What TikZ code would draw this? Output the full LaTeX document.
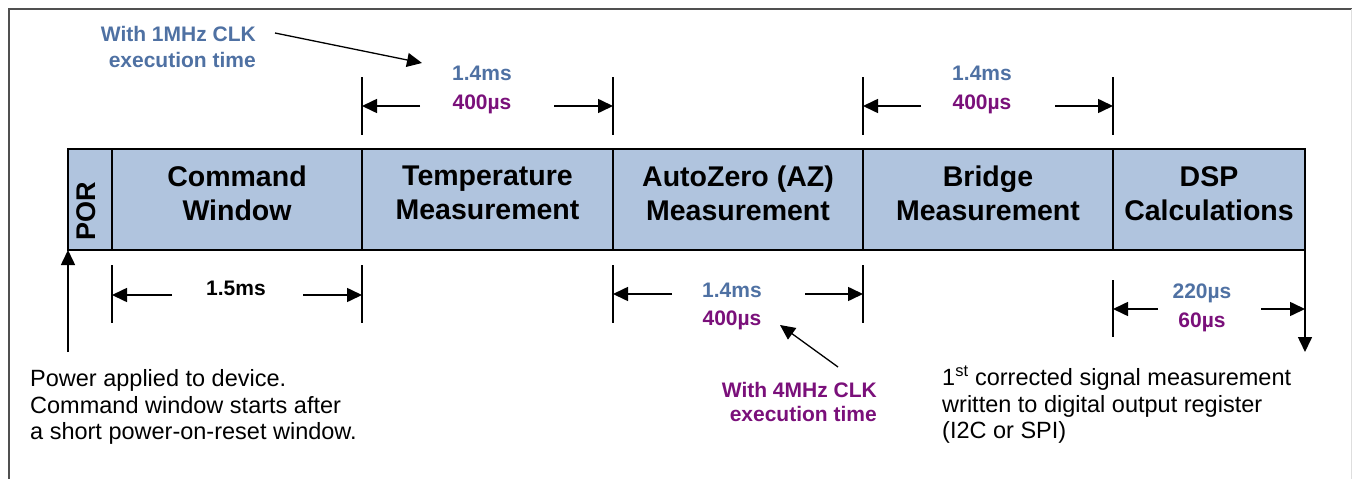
\documentclass[tikz,border=0pt]{standalone}
\usepackage{fontspec}
\setmainfont{Liberation Sans}
\usetikzlibrary{arrows.meta}
\definecolor{barfill}{RGB}{176,196,222}
\definecolor{clkblue}{RGB}{79,113,163}
\definecolor{clkpurple}{RGB}{122,16,122}
\definecolor{framedark}{RGB}{80,80,80}
\definecolor{framelight}{RGB}{222,222,222}
\begin{document}
\begin{tikzpicture}[x=1pt,y=-1pt,
  cell/.style={draw=black, line width=1.6pt, fill=barfill, minimum height=101pt,
    inner sep=0pt, outer sep=0pt, anchor=north west},
  celltext/.style={font=\fontsize{28.5}{34}\selectfont\bfseries, align=center,
    inner sep=0pt, anchor=north},
  tick/.style={line width=1.6pt},
  dimarrow/.style={line width=1.6pt, -{Triangle[length=15pt,width=14pt]}},
  callout/.style={line width=1.3pt, -{Triangle[length=15pt,width=14pt]}},
  dimlbl/.style={font=\fontsize{21}{26}\selectfont\bfseries, inner sep=0pt, anchor=base},
  clklbl/.style={font=\fontsize{21}{26}\selectfont\bfseries, inner sep=0pt,
    align=right, anchor=north east},
  body/.style={font=\fontsize{23.5}{26.5}\selectfont, inner sep=0pt, align=left,
    anchor=north west}]
\useasboundingbox (0,0) rectangle (1353,479);
% frame
\draw[framedark, line width=1.3pt] (9,479) -- (9,9) -- (1352,9);
\draw[framelight, line width=1pt] (1351.5,9) -- (1351.5,479);
% bar cells
\node[cell, minimum width=44pt]  (por)    at (68,149) {};
\node[cell, minimum width=250pt] (cmd)    at (112,149) {};
\node[cell, minimum width=251pt] (temp)   at (362,149) {};
\node[cell, minimum width=250pt] (az)     at (613,149) {};
\node[cell, minimum width=250pt] (bridge) at (863,149) {};
\node[cell, minimum width=192pt] (dsp)    at (1113,149) {};
\node[font=\fontsize{27}{30}\selectfont\bfseries, rotate=90, inner sep=0pt] (porlbl) at (86.5,211) {POR};
\node[celltext] (cmdlbl)    at (237,166) {Command\\Window};
\node[celltext] (templbl)   at (487.5,166) {Temperature\\Measurement};
\node[celltext] (azlbl)     at (738,166) {AutoZero (AZ)\\Measurement};
\node[celltext] (bridgelbl) at (988,166) {Bridge\\Measurement};
\node[celltext] (dsplbl)    at (1209,166) {DSP\\Calculations};
% top dimension 1 (temperature)
\coordinate (ta1) at (362,77);  \coordinate (tb1) at (362,135);
\coordinate (ta2) at (613,77);  \coordinate (tb2) at (613,135);
\draw[tick] (ta1) -- (tb1);
\draw[tick] (ta2) -- (tb2);
\coordinate (la1) at (420,106); \coordinate (le1) at (362,106);
\coordinate (ra1) at (554,106); \coordinate (re1) at (613,106);
\draw[dimarrow] (la1) -- (le1);
\draw[dimarrow] (ra1) -- (re1);
\node[dimlbl, text=clkblue]   (t1ms) at (482,80)  {1.4ms};
\node[dimlbl, text=clkpurple] (t1us) at (482,109) {400µs};
% top dimension 2 (bridge)
\coordinate (ta3) at (863,77);  \coordinate (tb3) at (863,135);
\coordinate (ta4) at (1113,77); \coordinate (tb4) at (1113,135);
\draw[tick] (ta3) -- (tb3);
\draw[tick] (ta4) -- (tb4);
\coordinate (la2) at (921,106);  \coordinate (le2) at (863,106);
\coordinate (ra2) at (1055,106); \coordinate (re2) at (1113,106);
\draw[dimarrow] (la2) -- (le2);
\draw[dimarrow] (ra2) -- (re2);
\node[dimlbl, text=clkblue]   (t2ms) at (982,80)  {1.4ms};
\node[dimlbl, text=clkpurple] (t2us) at (982,109) {400µs};
% bottom dimension 1 (command window)
\coordinate (ba1) at (112,265); \coordinate (bb1) at (112,323);
\coordinate (ba2) at (362,265); \coordinate (bb2) at (362,323);
\draw[tick] (ba1) -- (bb1);
\draw[tick] (ba2) -- (bb2);
\coordinate (la3) at (172,295); \coordinate (le3) at (112,295);
\coordinate (ra3) at (303,295); \coordinate (re3) at (362,295);
\draw[dimarrow] (la3) -- (le3);
\draw[dimarrow] (ra3) -- (re3);
\node[dimlbl] (b1ms) at (236,295) {1.5ms};
% bottom dimension 2 (autozero)
\coordinate (ba3) at (613,265); \coordinate (bb3) at (613,323);
\coordinate (ba4) at (863,265); \coordinate (bb4) at (863,323);
\draw[tick] (ba3) -- (bb3);
\draw[tick] (ba4) -- (bb4);
\coordinate (la4) at (672,294); \coordinate (le4) at (613,294);
\coordinate (ra4) at (805,294); \coordinate (re4) at (863,294);
\draw[dimarrow] (la4) -- (le4);
\draw[dimarrow] (ra4) -- (re4);
\node[dimlbl, text=clkblue]   (b2ms) at (732,297) {1.4ms};
\node[dimlbl, text=clkpurple] (b2us) at (732,325) {400µs};
% bottom dimension 3 (DSP)
\coordinate (ba5) at (1113,280); \coordinate (bb5) at (1113,337);
\draw[tick] (ba5) -- (bb5);
\coordinate (la5) at (1158,309); \coordinate (le5) at (1113,309);
\coordinate (ra5) at (1261,309); \coordinate (re5) at (1305,309);
\draw[dimarrow] (la5) -- (le5);
\draw[dimarrow] (ra5) -- (re5);
\node[dimlbl, text=clkblue]   (b3us) at (1202,298) {220µs};
\node[dimlbl, text=clkpurple] (b3us2) at (1202,327) {60µs};
% output arrow
\coordinate (outend) at (1305,352);
\draw[dimarrow] (dsp.south east) -- (outend);
% power arrow
\coordinate (pwrstart) at (68,352);
\draw[dimarrow] (pwrstart) -- (por.south west);
% clock callouts
\node[clklbl, text=clkblue] (clk1) at (256,26) {With 1MHz CLK\\execution time};
\coordinate (c1s) at (275,33); \coordinate (c1e) at (422,63);
\draw[callout] (c1s) -- (c1e);
\node[clklbl, text=clkpurple, font=\fontsize{21}{24}\selectfont\bfseries] (clk4) at (877,382) {With 4MHz CLK\\execution time};
\coordinate (c4s) at (838,367); \coordinate (c4e) at (780,325);
\draw[callout] (c4s) -- (c4e);
% body texts
\node[body] (pwrtxt) at (30,369.5) {Power applied to device.\\Command window starts after\\a short power-on-reset window.};
\node[body] (outtxt) at (942,368.5) {\smash{1\textsuperscript{st}} corrected signal measurement\\written to digital output register\\(I2C or SPI)};
\end{tikzpicture}
\end{document}
